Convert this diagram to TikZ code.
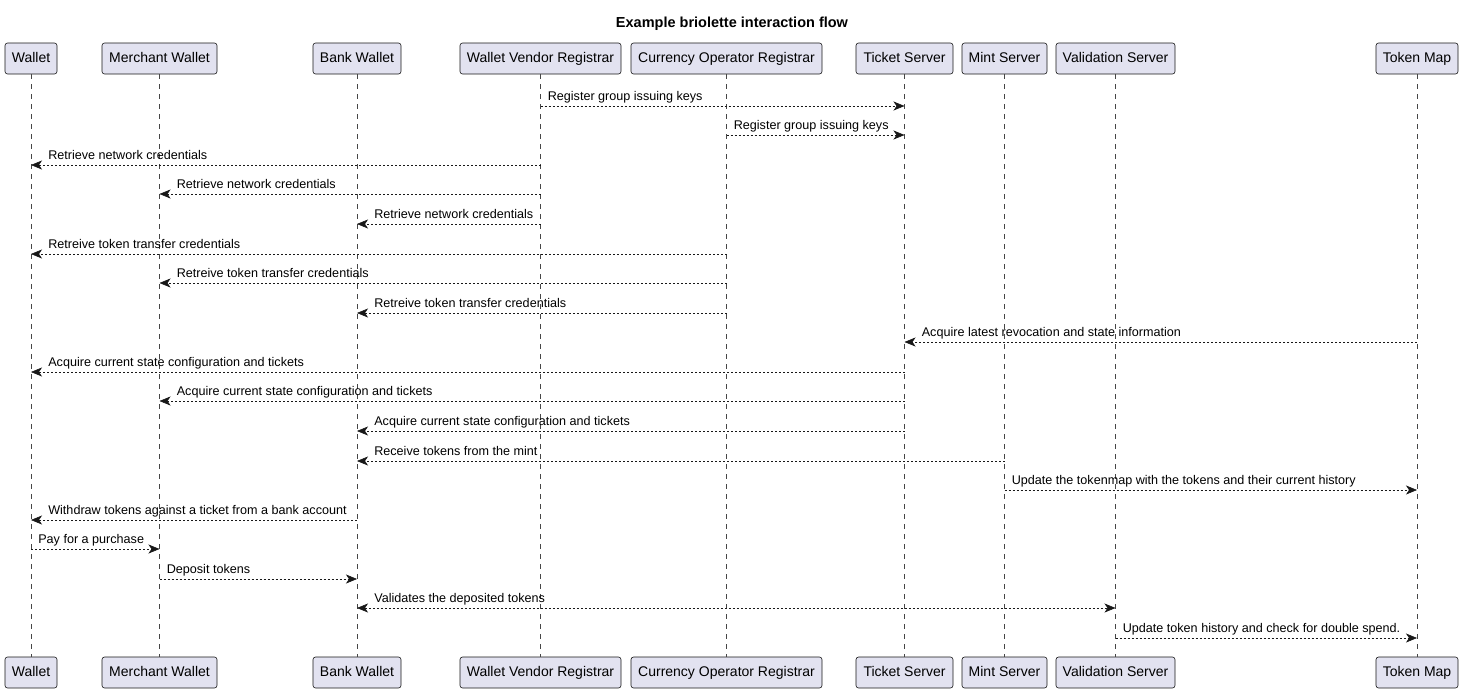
\documentclass[tikz,border=0pt]{standalone}
\usepackage{fontspec}
\setmainfont{Liberation Sans}
\usepackage{tikz}
\usetikzlibrary{arrows.meta,positioning}
\definecolor{boxfill}{HTML}{E2E2F0}
\definecolor{ink}{HTML}{181818}
\tikzstyle{actor} = [rectangle, rounded corners=2.5pt, draw=ink, line width=0.6pt, fill=boxfill, text=black, font=\fontsize{14}{16}\selectfont, minimum height=31pt, inner sep=0pt, text height=10pt, text depth=3pt]
\tikzstyle{life}  = [draw=ink!80, line width=0.5pt, dash pattern=on 5pt off 5pt]
\tikzstyle{tip}   = [>={Stealth[length=11pt, width=9pt, inset=3pt]}]
\tikzstyle{msg}   = [draw=ink, line width=0.6pt, dash pattern=on 2pt off 2pt, tip, ->]
\tikzstyle{lbl}   = [anchor=south west, inner sep=1pt, yshift=1pt, text height=9pt, text depth=3pt, font=\fontsize{12.6}{14}\selectfont]

\begin{document}
\begin{tikzpicture}[x=1pt, y=-1pt]
\useasboundingbox (0,0) rectangle (1464,691);

% title
\node[font=\bfseries\fontsize{14.5}{16}\selectfont] (title) at (732,24) {Example briolette interaction flow};

% participants (top) =============================
\node[actor, minimum width=52pt] (wallet) at (31,58.5) {Wallet};
\node[actor, minimum width=115pt] (merchant) at (159.5,58.5) {Merchant Wallet};
\node[actor, minimum width=88pt] (bank) at (357,58.5) {Bank Wallet};
\node[actor, minimum width=161pt] (wvr) at (540.5,58.5) {Wallet Vendor Registrar};
\node[actor, minimum width=191pt] (cor) at (726.5,58.5) {Currency Operator Registrar};
\node[actor, minimum width=97pt] (ticket) at (904.5,58.5) {Ticket Server};
\node[actor, minimum width=85pt] (mint) at (1004.5,58.5) {Mint Server};
\node[actor, minimum width=119pt] (valid) at (1115.5,58.5) {Validation Server};
\node[actor, minimum width=82pt] (tmap) at (1417,58.5) {Token Map};

% participants (bottom)
\node[actor, minimum width=52pt] (walletB) at (31,672.5) {Wallet};
\node[actor, minimum width=115pt] (merchantB) at (159.5,672.5) {Merchant Wallet};
\node[actor, minimum width=88pt] (bankB) at (357,672.5) {Bank Wallet};
\node[actor, minimum width=161pt] (wvrB) at (540.5,672.5) {Wallet Vendor Registrar};
\node[actor, minimum width=191pt] (corB) at (726.5,672.5) {Currency Operator Registrar};
\node[actor, minimum width=97pt] (ticketB) at (904.5,672.5) {Ticket Server};
\node[actor, minimum width=85pt] (mintB) at (1004.5,672.5) {Mint Server};
\node[actor, minimum width=119pt] (validB) at (1115.5,672.5) {Validation Server};
\node[actor, minimum width=82pt] (tmapB) at (1417,672.5) {Token Map};

% lifelines
\path[life] (wallet) -- (walletB);
\path[life] (merchant) -- (merchantB);
\path[life] (bank) -- (bankB);
\path[life] (wvr) -- (wvrB);
\path[life] (cor) -- (corB);
\path[life] (ticket) -- (ticketB);
\path[life] (mint) -- (mintB);
\path[life] (valid) -- (validB);
\path[life] (tmap) -- (tmapB);

% messages =============================
\path[msg] (wvr |- 0,106) -- node[lbl, pos=0, xshift=6pt] {Register group issuing keys} (ticket |- 0,106);
\path[msg] (cor |- 0,135) -- node[lbl, pos=0, xshift=6pt] {Register group issuing keys} (ticket |- 0,135);

\path[msg] (wvr |- 0,165) -- node[lbl, pos=1, xshift=16pt] {Retrieve network credentials} (wallet |- 0,165);
\path[msg] (wvr |- 0,194) -- node[lbl, pos=1, xshift=16pt] {Retrieve network credentials} (merchant |- 0,194);
\path[msg] (wvr |- 0,224) -- node[lbl, pos=1, xshift=16pt] {Retrieve network credentials} (bank |- 0,224);

\path[msg] (cor |- 0,254) -- node[lbl, pos=1, xshift=16pt] {Retreive token transfer credentials} (wallet |- 0,254);
\path[msg] (cor |- 0,283) -- node[lbl, pos=1, xshift=16pt] {Retreive token transfer credentials} (merchant |- 0,283);
\path[msg] (cor |- 0,313) -- node[lbl, pos=1, xshift=16pt] {Retreive token transfer credentials} (bank |- 0,313);

\path[msg] (tmap |- 0,342) -- node[lbl, pos=1, xshift=16pt] {Acquire latest revocation and state information} (ticket |- 0,342);
\path[msg] (ticket |- 0,372) -- node[lbl, pos=1, xshift=16pt] {Acquire current state configuration and tickets} (wallet |- 0,372);
\path[msg] (ticket |- 0,401) -- node[lbl, pos=1, xshift=16pt] {Acquire current state configuration and tickets} (merchant |- 0,401);
\path[msg] (ticket |- 0,431) -- node[lbl, pos=1, xshift=16pt] {Acquire current state configuration and tickets} (bank |- 0,431);

\path[msg] (mint |- 0,461) -- node[lbl, pos=1, xshift=16pt] {Receive tokens from the mint} (bank |- 0,461);
\path[msg] (mint |- 0,490) -- node[lbl, pos=0, xshift=6pt] {Update the tokenmap with the tokens and their current history} (tmap |- 0,490);

\path[msg] (bank |- 0,520) -- node[lbl, pos=1, xshift=16pt] {Withdraw tokens against a ticket from a bank account} (wallet |- 0,520);
\path[msg] (wallet |- 0,549) -- node[lbl, pos=0, xshift=6pt] {Pay for a purchase} (merchant |- 0,549);
\path[msg] (merchant |- 0,579) -- node[lbl, pos=0, xshift=6pt] {Deposit tokens} (bank |- 0,579);
\path[msg, <->] (bank |- 0,608) -- node[lbl, pos=0, xshift=16pt] {Validates the deposited tokens} (valid |- 0,608);
\path[msg] (valid |- 0,638) -- node[lbl, pos=0, xshift=6pt] {Update token history and check for double spend.} (tmap |- 0,638);

\end{tikzpicture}
\end{document}
